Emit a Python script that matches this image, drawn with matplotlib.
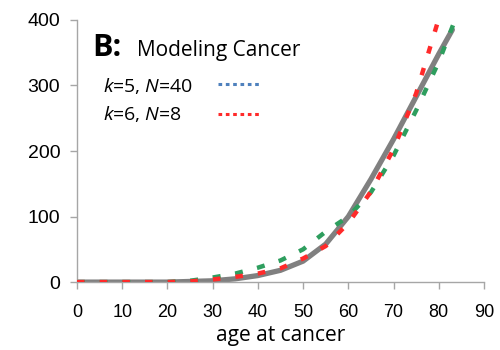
import matplotlib
matplotlib.use('Agg')
import matplotlib.pyplot as plt
from matplotlib.lines import Line2D

# observed incidence (gray) and two model fits
age_obs = [0, 5, 10, 15, 20, 25, 30, 35, 40, 45, 50, 55, 60, 65, 70, 75, 80, 83]
obs = [0, 0, 0, 0, 0, 1, 2, 5, 10, 18, 32, 58, 100, 157, 218, 283, 348, 385]

age_k5 = [0, 5, 10, 15, 20, 25, 30, 35, 40, 45, 50, 55, 60, 65, 70, 75, 80, 85]
fit_k5 = [0, 0, 0, 0, 0, 2, 7, 13, 22, 33, 50, 77, 100, 137, 193, 262, 336, 425]

age_k6 = [0, 5, 10, 15, 20, 25, 30, 35, 40, 45, 50, 55, 60, 65, 70, 75, 80]
fit_k6 = [0, 0, 0, 0, 0, 1, 4, 8, 13, 21, 36, 55, 90, 138, 203, 288, 402]

labels = [r'$k$=5, $N$=40', r'$k$=6, $N$=8']
legend_colors = ['#4f81bd', '#ff2a2a']

plt.rcParams['font.family'] = ['Open Sans', 'DejaVu Sans']
plt.rcParams['mathtext.fontset'] = 'custom'
plt.rcParams['mathtext.it'] = 'Open Sans:italic'
plt.rcParams['mathtext.rm'] = 'Open Sans'

fig = plt.figure(figsize=(5, 3.5), dpi=100)
ax = fig.add_axes([0.154, 0.194, 0.814, 0.749])

ax.plot(age_obs, obs, color='#808080', lw=3.8, solid_capstyle='round',
        solid_joinstyle='round', zorder=2)
ax.plot(age_k5, fit_k5, color='#2e9e5e', lw=3.2, linestyle=(0, (1.8, 3.3)), zorder=3)
ax.plot(age_k6, fit_k6, color='#ff2a2a', lw=3.2, linestyle=(0, (1.7, 3.4)), zorder=4)

ax.set_xlim(0, 90)
ax.set_ylim(0, 400)
ax.set_xticks(range(0, 91, 10))
ax.set_yticks(range(0, 401, 100))
for s in ['top', 'right']:
    ax.spines[s].set_visible(False)
for s in ['left', 'bottom']:
    ax.spines[s].set_color('#a6a6a6')
    ax.spines[s].set_linewidth(1.0)
ax.tick_params(colors='#a6a6a6', length=5, width=1.0, labelcolor='black')
ax.tick_params(axis='x', pad=11)
ax.tick_params(axis='y', pad=7)
for lab in ax.get_xticklabels():
    lab.set_family('Liberation Sans')
    lab.set_fontsize(13)
for lab in ax.get_yticklabels():
    lab.set_family('Liberation Sans')
    lab.set_fontsize(14)
ax.set_xlabel('age at cancer', fontsize=15, labelpad=3)

ax.text(0.037, 0.863, 'B:', transform=ax.transAxes, fontsize=22, fontweight='bold')
ax.text(0.147, 0.863, 'Modeling Cancer', transform=ax.transAxes, fontsize=15)

# legend entries: text on the left, sample line on the right
ax.text(0.064, 0.725, labels[0], transform=ax.transAxes, fontsize=14)
ax.text(0.064, 0.618, labels[1], transform=ax.transAxes, fontsize=14)
handles = [Line2D([], [], color=c, lw=2.2, linestyle=(0, (1.2, 1.2))) for c in legend_colors]
leg = ax.legend(handles, ['', ''], loc='upper left', bbox_to_anchor=(0.346, 0.779),
                frameon=False, fontsize=10, handlelength=3.17, handletextpad=0,
                labelspacing=1.06, borderaxespad=0, borderpad=0)

fig.savefig('out.png', dpi=100)
